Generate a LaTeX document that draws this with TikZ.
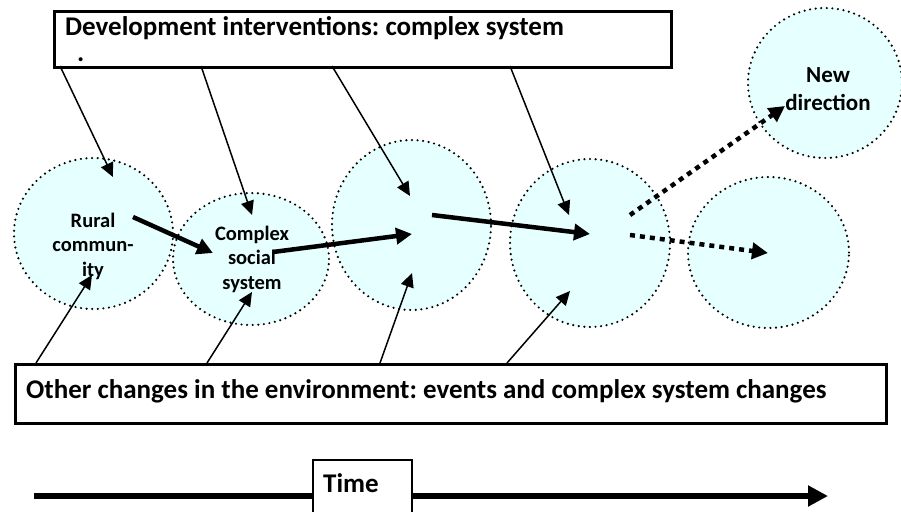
\documentclass[tikz,border=0pt]{standalone}
\usepackage{fontspec}
\setmainfont{Carlito}
\usetikzlibrary{arrows.meta,shapes.geometric}
\definecolor{cfill}{RGB}{230,255,255}
\frenchspacing
\tikzset{
  bubble/.style={ellipse, fill=cfill, inner sep=0pt},
  ring/.style={draw=black, line width=2.4pt, dash pattern=on 0pt off 5.6pt, line cap=round},
  labelbox/.style={draw, line width=3pt, fill=white, inner sep=0pt},
  txt/.style={font=\bfseries\fontsize{27}{32}\selectfont, inner sep=0pt},
  ctext/.style={font=\bfseries\fontsize{20.5}{24.5}\selectfont, align=center, inner sep=0pt},
  ntext/.style={font=\bfseries\fontsize{23}{28}\selectfont, align=center, inner sep=0pt},
  feed/.style={line width=1.5pt, -{Triangle[length=14pt,width=13pt]}},
  move/.style={line width=4.5pt, -{Triangle[length=16pt,width=16pt]}},
  maybe/.style={move, dash pattern=on 5pt off 5pt},
  timeline/.style={line width=6pt, -{Triangle[length=20pt,width=20pt]}},
}
\begin{document}
\begin{tikzpicture}[x=1pt,y=-1pt]
\path[use as bounding box, clip] (0,0) rectangle (901,511);

% circle fills
\foreach \n/\x/\y/\a/\b in {c1/93.5/233.5/79.5/75.5, c2/251/259/78/66, c3/411.5/225/79.5/85, c4/590/243/80/84, c5/768.5/252.5/80.5/75.5, c6/825/83/77/75}
  \node[bubble, minimum width=2*\a, minimum height=2*\b] (\n) at (\x,\y) {};
% circle borders
\foreach \n/\a/\b in {c1/79.5/75.5, c2/78/66, c3/79.5/85, c4/80/84, c5/80.5/75.5, c6/77/75}
  \draw[ring] (\n.center) ellipse [x radius=\a pt, y radius=\b pt];

% boxes
\node[labelbox, minimum width=617, minimum height=56, anchor=north west] (dev) at (53,10) {};
\node[labelbox, minimum width=871, minimum height=59, anchor=north west] (env) at (14,363) {};

% connector end points
\coordinate (a1s) at (60,66);   \coordinate (a1e) at (113,177);
\coordinate (a2s) at (201,66);  \coordinate (a2e) at (252,215);
\coordinate (a3s) at (332,66);  \coordinate (a3e) at (410,196);
\coordinate (a4s) at (510,66);  \coordinate (a4e) at (569,215);
\coordinate (b1s) at (36,363);  \coordinate (b1e) at (92,275);
\coordinate (b2s) at (207,363); \coordinate (b2e) at (252,292);
\coordinate (b3s) at (380,363); \coordinate (b3e) at (412,273);
\coordinate (b4s) at (507,363); \coordinate (b4e) at (570,291);
\coordinate (m1s) at (133,217); \coordinate (m1e) at (213,253);
\coordinate (m2s) at (273,252); \coordinate (m2e) at (412,234);
\coordinate (m3s) at (432,215); \coordinate (m3e) at (590,234);
\coordinate (d1s) at (630,215); \coordinate (d1e) at (785,106);
\coordinate (d2s) at (630,235); \coordinate (d2e) at (768,253);
\coordinate (t0) at (34,496);   \coordinate (t9) at (828,496);

% thin arrows
\foreach \p in {a1,a2,a3,a4,b1,b2,b3,b4}
  \draw[feed] (\p s) -- (\p e);
% thick arrows
\draw[move] (m1s) -- (m1e);
\draw[move] (m2s) -- (m2e);
\draw[move] (m3s) -- (m3e);
\draw[maybe] (d1s) -- (d1e);
\draw[maybe] (d2s) -- (d2e);

% time line
\draw[timeline] (t0) -- (t9);
\node[draw, line width=2pt, fill=white, minimum width=99, minimum height=70, anchor=north west] (timebox) at (312,459) {};

% texts
\node[txt, anchor=base west] (devt) at (65,36) {Development interventions: complex system};
\node[txt, anchor=base west] (devdot) at (77,62) {.};
\node[txt, anchor=base west] (envt) at (26,398) {Other changes in the environment: events and complex system changes};
\node[txt, anchor=base west] (timet) at (323,492) {Time};
\node[ctext] (l1) at (93,246) {Rural\\commun-\\ity};
\node[ctext] (l2) at (252,259) {Complex\\social\\system};
\node[ntext] (l6) at (828,89) {New\\direction};
\end{tikzpicture}
\end{document}
